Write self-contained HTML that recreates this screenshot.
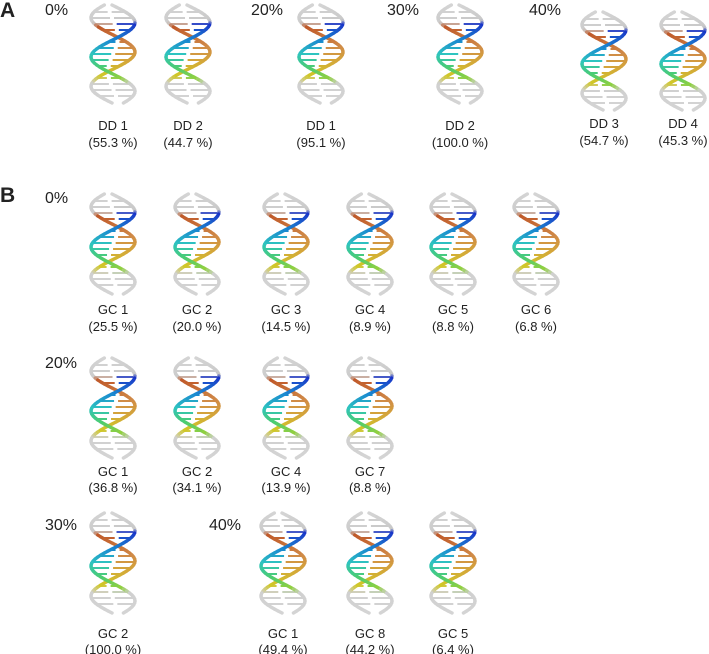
<!DOCTYPE html>
<html><head><meta charset="utf-8">
<style>
html,body{margin:0;padding:0;background:#fff;}
#wrap{position:relative;width:709px;height:654px;overflow:hidden;font-family:"Liberation Sans",sans-serif;color:#222;}
svg{position:absolute;left:0;top:0;}
</style></head>
<body>
<div id="wrap">
<svg id="fig" width="709" height="654" viewBox="0 0 709 654"></svg>
</div>
<script>
// Data
const aNames=['DD 1','DD 2','DD 1','DD 2','DD 3','DD 4'];
const aPcts=['55.3','44.7','95.1','100.0','54.7','45.3'];
const b1Names=['GC 1','GC 2','GC 3','GC 4','GC 5','GC 6'];
const b1Pcts=['25.5','20.0','14.5','8.9','8.8','6.8'];
const b2Names=['GC 1','GC 2','GC 4','GC 7'];
const b2Pcts=['36.8','34.1','13.9','8.8'];
const b3Names=['GC 2','GC 1','GC 8','GC 5'];
const b3Pcts=['100.0','49.4','44.2','6.4'];

// Layout
const aX=[113,188,321,460,604,683];
const b1X=[113,197,286,370,453,536];
const b2X=[113,197,286,370];
const b3X=[113,283,370,453];

const svg=document.getElementById('fig');
const NS='http://www.w3.org/2000/svg';
function mk(tag,attrs,parent){const e=document.createElementNS(NS,tag);for(const k in attrs)e.setAttribute(k,attrs[k]);(parent||svg).appendChild(e);return e;}
function text(x,y,s,size,name,opts){
  const t=mk('text',{x:x,y:y,'font-size':size,'text-anchor':(opts&&opts.anchor)||'middle','font-family':'Liberation Sans, sans-serif',fill:'#222','font-weight':(opts&&opts.bold)?'bold':'normal'});
  t.textContent=s;
  
  
  return t;
}
function lerp(a,b,t){return a+(b-a)*t;}
function hex(c){return [parseInt(c.slice(1,3),16),parseInt(c.slice(3,5),16),parseInt(c.slice(5,7),16)];}
function colAt(stops,f){
  for(let i=0;i<stops.length-1;i++){
    if(f<=stops[i+1][0]){const t=(f-stops[i][0])/(stops[i+1][0]-stops[i][0]);const a=hex(stops[i][1]),b=hex(stops[i+1][1]);
      return 'rgb('+Math.round(lerp(a[0],b[0],t))+','+Math.round(lerp(a[1],b[1],t))+','+Math.round(lerp(a[2],b[2],t))+')';}
  }
  return stops[stops.length-1][1];
}
const stA=[[0,'#d4d4d4'],[0.16,'#c8c8c8'],[0.2,'#1a35c8'],[0.36,'#1a8ad0'],[0.5,'#2ec4c0'],[0.64,'#4ccc70'],[0.74,'#90d040'],[0.8,'#d0d0d0'],[1,'#d4d4d4']];
const stB=[[0,'#d4d4d4'],[0.18,'#cccccc'],[0.22,'#c05a2a'],[0.42,'#d08a48'],[0.58,'#d4a838'],[0.72,'#d0c828'],[0.8,'#d0d0d0'],[1,'#d4d4d4']];

function helix(cx,top,h,name){
  const g=mk('g',{});
  
  
  const r=22,P=h*0.7,off=top+h*0.18;
  const xa=y=>cx+r*Math.cos(2*Math.PI*(y-off)/P);
  const xb=y=>cx-r*Math.cos(2*Math.PI*(y-off)/P+0.45);
  for(let y=top+7;y<top+h-5;y+=6){
    const f=(y-top)/h;const a=xa(y),b=xb(y),m=(a+b)/2;
    if(Math.abs(a-b)<8)continue;
    const da=a<m?2:-2;
    mk('line',{x1:a,y1:y,x2:m-da,y2:y,stroke:colAt(stA,f),'stroke-width':2},g);
    mk('line',{x1:m+da,y1:y,x2:b,y2:y,stroke:colAt(stB,f),'stroke-width':2},g);
  }
  const step=2;
  for(let y=top;y<top+h;y+=step){
    const f=(y-top)/h;
    mk('line',{x1:xb(y),y1:y,x2:xb(y+step),y2:y+step,stroke:colAt(stB,f),'stroke-width':3.4,'stroke-linecap':'round'},g);
  }
  for(let y=top;y<top+h;y+=step){
    const f=(y-top)/h;
    mk('line',{x1:xa(y),y1:y,x2:xa(y+step),y2:y+step,stroke:colAt(stA,f),'stroke-width':3.4,'stroke-linecap':'round'},g);
  }
}
function row(xs,names,pcts,top,h,l1,l2,prefix){
  xs.forEach((x,i)=>{
    helix(x,top,h,prefix+'-helix-'+(i+1));
    text(x,l1,names[i],13,prefix+'-label-'+(i+1));
    text(x,l2,'('+pcts[i]+' %)',13,prefix+'-percent-'+(i+1));
  });
}
text(0,17,'A',21,'panel-a-label',{anchor:'start',bold:true});
text(0,202,'B',21,'panel-b-label',{anchor:'start',bold:true});
text(45,15,'0%',16,'a-0-percent-header',{anchor:'start'});
text(251,15,'20%',16,'a-20-percent-header',{anchor:'start'});
text(387,15,'30%',16,'a-30-percent-header',{anchor:'start'});
text(529,15,'40%',16,'a-40-percent-header',{anchor:'start'});
text(45,203,'0%',16,'b-0-percent-header',{anchor:'start'});
text(45,368,'20%',16,'b-20-percent-header',{anchor:'start'});
text(45,530,'30%',16,'b-30-percent-header',{anchor:'start'});
text(209,530,'40%',16,'b-40-percent-header',{anchor:'start'});

row(aX.slice(0,4),aNames.slice(0,4),aPcts.slice(0,4),5,98,130,147,'a');
aX.slice(4).forEach((x,i)=>{
  helix(x,12,98,'a-helix-'+(i+5));
  text(x,128,aNames[i+4],13,'a-label-'+(i+5));
  text(x,145,'('+aPcts[i+4]+' %)',13,'a-percent-'+(i+5));
});
row(b1X,b1Names,b1Pcts,194,100,314,331,'b-row1');
row(b2X,b2Names,b2Pcts,358,100,476,492,'b-row2');
row(b3X,b3Names,b3Pcts,513,100,638,654,'b-row3');
</script>
</body></html>
